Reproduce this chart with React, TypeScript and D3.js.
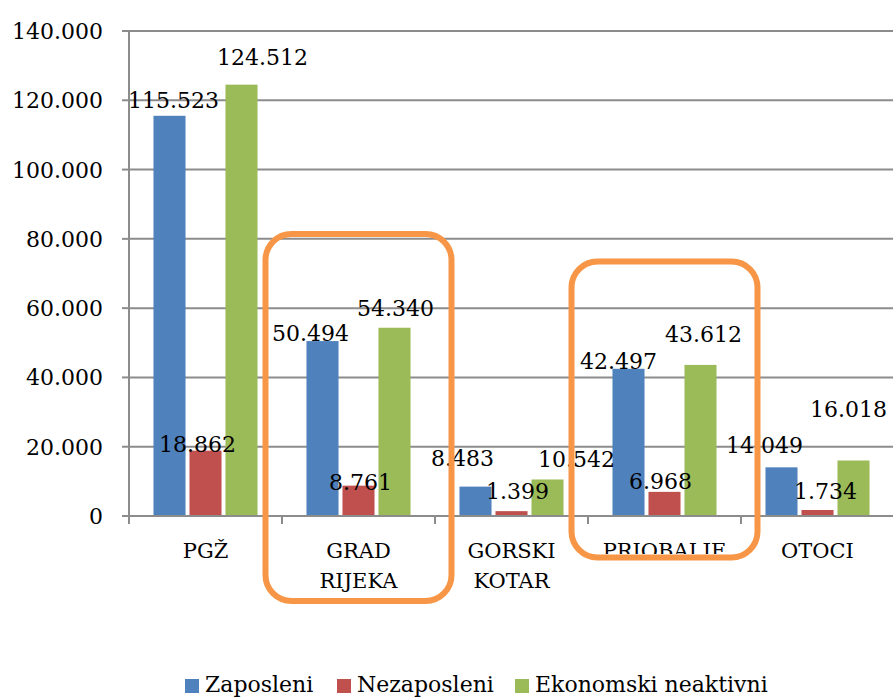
import React from 'react';
import * as d3 from 'd3';

const categories = ['PGŽ', 'GRAD RIJEKA', 'GORSKI KOTAR', 'PRIOBALJE', 'OTOCI'];
const categoryLines = [['PGŽ'], ['GRAD', 'RIJEKA'], ['GORSKI', 'KOTAR'], ['PRIOBALJE'], ['OTOCI']];
const seriesNames = ['Zaposleni', 'Nezaposleni', 'Ekonomski neaktivni'];
const zaposleni = [115523, 50494, 8483, 42497, 14049];
const nezaposleni = [18862, 8761, 1399, 6968, 1734];
const neaktivni = [124512, 54340, 10542, 43612, 16018];
const yTicks = [0, 20000, 40000, 60000, 80000, 100000, 120000, 140000];
const highlighted = ['GRAD RIJEKA', 'PRIOBALJE'];

// hand-placed label offsets (dx, dy from bar top), as in the original
const labelNudge = [
  [[4, -8], [-12, 0], [-13, -21], [-10, 0], [-17, -14]],
  [[-8, 1], [2, 4], [6, -12], [-4, -3], [8, -11]],
  [[21, -20], [1, -12], [29, -12], [3, -23], [-5, -44]],
];

const colors = ['#4f81bd', '#c0504d', '#9bbb59'];
const values = [zaposleni, nezaposleni, neaktivni];

const W = 893;
const H = 697;
const FONT = "'DejaVu Serif', serif";

const fmt = d3.formatLocale({ decimal: ',', thousands: '.', grouping: [3], currency: ['', ''] }).format(',d');

export default function App() {
  const x = d3.scaleBand().domain(categories).range([129, 894]);
  const xi = d3.scaleBand().domain(seriesNames).range([0, x.bandwidth()]).paddingInner(0.11).paddingOuter(0.68);
  const y = d3.scaleLinear().domain([0, 140000]).range([516, 31]);
  const grid = '#8c8c8c';

  return (
    <svg width={W} height={H} style={{ position: 'absolute', left: 0, top: 0, background: '#fff', fontFamily: FONT }}>
      <defs>
        <clipPath id="cutLabel">
          <rect x={0} y={0} width={W} height={554} />
        </clipPath>
      </defs>

      {yTicks.map(t => (
        <g key={t}>
          {t > 0 && <line x1={129} x2={894} y1={y(t)} y2={y(t)} stroke={grid} strokeWidth={2} />}
          <line x1={122} x2={129} y1={y(t)} y2={y(t)} stroke={grid} strokeWidth={2} />
          <text x={103} y={y(t) + 8} textAnchor="end" fontSize={22} fill="#000">{fmt(t)}</text>
        </g>
      ))}

      {values.map((vals, s) => categories.map((c, i) => (
        <rect key={`${s}-${c}`} x={x(c)! + xi(seriesNames[s])!} y={y(vals[i])}
          width={xi.bandwidth()} height={y(0) - y(vals[i])} fill={colors[s]} />
      )))}

      <line x1={129} x2={129} y1={y(140000)} y2={y(0)} stroke={grid} strokeWidth={2} />
      <line x1={122} x2={894} y1={y(0)} y2={y(0)} stroke={grid} strokeWidth={2} />
      {categories.map(c => (
        <line key={c} x1={x(c)!} x2={x(c)!} y1={y(0)} y2={y(0) + 8} stroke={grid} strokeWidth={2} />
      ))}

      {values.map((vals, s) => categories.map((c, i) => (
        <text key={`l${s}-${c}`} x={x(c)! + xi(seriesNames[s])! + xi.bandwidth() / 2 + labelNudge[s][i][0]}
          y={y(vals[i]) + labelNudge[s][i][1]} textAnchor="middle" fontSize={22} fill="#000">
          {fmt(vals[i])}
        </text>
      )))}

      {categories.map((c, i) => (
        <text key={`c${c}`} x={x(c)! + x.bandwidth() / 2} y={558} textAnchor="middle" fontSize={21}
          fill="#000" clipPath={c === 'PRIOBALJE' ? 'url(#cutLabel)' : undefined}>
          {categoryLines[i].map((ln, k) => (
            <tspan key={ln} x={x(c)! + x.bandwidth() / 2} dy={k === 0 ? 0 : 30}>{ln}</tspan>
          ))}
        </text>
      ))}

      {highlighted.map((c, k) => (
        <rect key={`h${c}`} x={x(c)! - 16.5} y={k === 0 ? 234 : 261.5} width={x.bandwidth() + 33}
          height={k === 0 ? 367 : 296} rx={26} ry={26} fill="none" stroke="#f79646" strokeWidth={6} />
      ))}

      {seriesNames.map((n, s) => {
        const lx = [185, 337, 515][s];
        return (
          <g key={n}>
            <rect x={lx} y={679} width={14} height={14} fill={colors[s]} />
            <text x={lx + 20} y={692} fontSize={22} fill="#000">{n}</text>
          </g>
        );
      })}
    </svg>
  );
}
